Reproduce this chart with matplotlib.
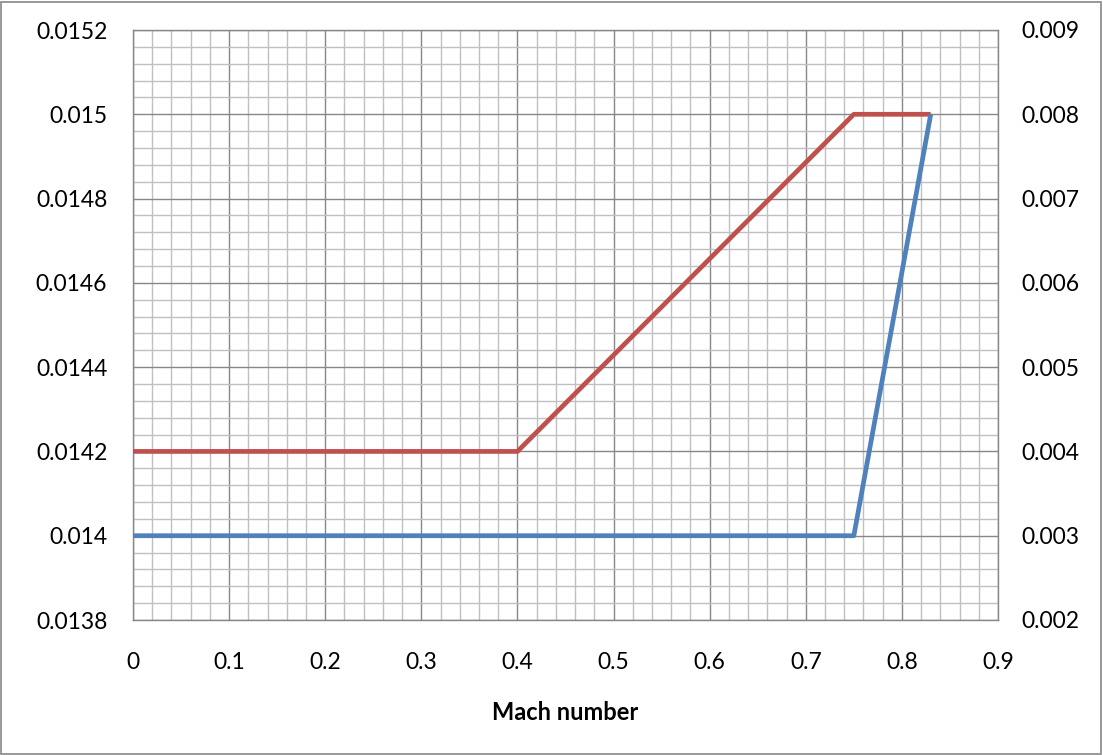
import matplotlib
matplotlib.use("Agg")
import matplotlib.pyplot as plt
from matplotlib.ticker import MultipleLocator, FixedLocator
from matplotlib.patches import Rectangle

plt.rcParams['font.family'] = ['Lato', 'DejaVu Sans']

# Data
mach_red = [0.0, 0.4, 0.75, 0.83]
red_vals = [0.0142, 0.0142, 0.0150, 0.0150]      # left axis
mach_blue = [0.0, 0.75, 0.83]
blue_vals = [0.003, 0.003, 0.008]                # right axis

left_ticks = [0.0138, 0.0140, 0.0142, 0.0144, 0.0146, 0.0148, 0.0150, 0.0152]
left_labels = ["0.0138", "0.014", "0.0142", "0.0144", "0.0146", "0.0148", "0.015", "0.0152"]
right_ticks = [0.002, 0.003, 0.004, 0.005, 0.006, 0.007, 0.008, 0.009]
right_labels = ["0.002", "0.003", "0.004", "0.005", "0.006", "0.007", "0.008", "0.009"]
x_ticks = [0, 0.1, 0.2, 0.3, 0.4, 0.5, 0.6, 0.7, 0.8, 0.9]
x_labels = ["0", "0.1", "0.2", "0.3", "0.4", "0.5", "0.6", "0.7", "0.8", "0.9"]

W, H = 1103, 755
fig = plt.figure(figsize=(W/100, H/100), dpi=100)
L, R, T, B = 133, 998, 30, 620
ax = fig.add_axes([L/W, 1 - B/H, (R-L)/W, (B-T)/H])

ax.set_xlim(0, 0.9)
ax.set_ylim(0.0138, 0.0152)
ax.xaxis.set_major_locator(FixedLocator(x_ticks))
ax.set_xticklabels(x_labels)
ax.yaxis.set_major_locator(FixedLocator(left_ticks))
ax.set_yticklabels(left_labels)
ax.xaxis.set_minor_locator(MultipleLocator(0.02))
ax.yaxis.set_minor_locator(MultipleLocator(0.00004))

ax.grid(which='minor', color='#C0C0C0', linewidth=1.0)
ax.grid(which='major', color='#878787', linewidth=1.0)
ax.set_axisbelow(True)

for s in ax.spines.values():
    s.set_color('#878787')
    s.set_linewidth(1.0)

ax.tick_params(which='both', length=0)
ax.tick_params(axis='y', pad=18.5, labelsize=16.5)
ax.tick_params(axis='x', pad=23, labelsize=16.5)

ax.plot(mach_red, red_vals, color='#C0504D', linewidth=3.4, solid_capstyle='butt', zorder=3)

ax2 = ax.twinx()
ax2.set_ylim(0.002, 0.009)
ax2.yaxis.set_major_locator(FixedLocator(right_ticks))
ax2.set_yticklabels(right_labels)
ax2.tick_params(which='both', length=0)
ax2.tick_params(axis='y', pad=16.5, labelsize=16.5)
for s in ax2.spines.values():
    s.set_visible(False)
ax2.plot(mach_blue, blue_vals, color='#4F81BD', linewidth=3.4, solid_capstyle='butt', zorder=3)

ax.set_xlabel("Mach number", fontsize=17, fontweight='bold', labelpad=20)

fig.patches.append(Rectangle((1/W, 1/H), (W-3)/W, (H-3)/H, transform=fig.transFigure,
                             fill=False, edgecolor='#878787', linewidth=1.2))

fig.savefig("out.png", dpi=100)
